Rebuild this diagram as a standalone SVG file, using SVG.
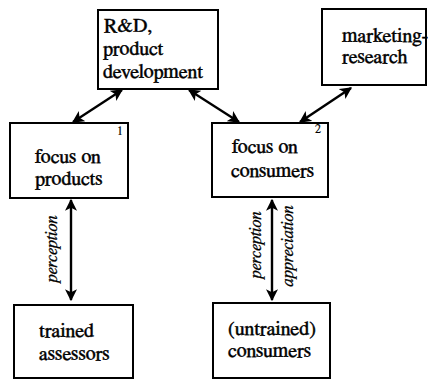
<svg xmlns="http://www.w3.org/2000/svg" width="428" height="380" viewBox="0 0 428 380">
  <style>
    text { font-family: FreeSerif, "Liberation Serif", "Times New Roman", serif; fill: #000; stroke: #000; stroke-width: 0.45; }
    .lbl { font-size: 20px; }
    .num { font-size: 12px; stroke-width: 0.2; }
    .rel { font-size: 17px; font-style: italic; stroke-width: 0.3; }
    .box { fill: #fff; stroke: #000; stroke-width: 2; }
    .link { stroke: #000; stroke-width: 2.4; fill: none; marker-start: url(#head); marker-end: url(#head); }
  </style>
  <defs>
    <marker id="head" viewBox="0 0 10 10" refX="9" refY="5" markerWidth="5" markerHeight="5" orient="auto-start-reverse" markerUnits="strokeWidth">
      <path d="M0,0 L10,5 L0,10 L2.5,5 Z" fill="#000"/>
    </marker>
  </defs>
  <rect width="428" height="380" fill="#fff"/>

  <g id="connectors">
    <line class="link" x1="122" y1="90" x2="73" y2="122"/>
    <line class="link" x1="189" y1="90" x2="239" y2="122"/>
    <line class="link" x1="351" y1="88" x2="300" y2="122"/>
    <line class="link" x1="71" y1="200" x2="71" y2="300"/>
    <line class="link" x1="272" y1="200" x2="272" y2="300"/>
    <text class="rel" transform="translate(57,249) rotate(-90)" text-anchor="middle">perception</text>
    <text class="rel" transform="translate(261,245) rotate(-90)" text-anchor="middle">perception</text>
    <text class="rel" transform="translate(293,246) rotate(-90)" text-anchor="middle">appreciation</text>
  </g>

  <g id="rnd">
    <rect class="box" x="98" y="10" width="120" height="79"/>
    <text class="lbl" x="104" y="32">R&amp;D,</text>
    <text class="lbl" x="103" y="55">product</text>
    <text class="lbl" x="103" y="78">development</text>
  </g>

  <g id="marketing">
    <rect class="box" x="322" y="9" width="104" height="76"/>
    <text class="lbl" x="342" y="42">marketing-</text>
    <text class="lbl" x="342" y="63">research</text>
  </g>

  <g id="focus-products">
    <rect class="box" x="10" y="123" width="118" height="75"/>
    <text class="num" x="117" y="135">1</text>
    <text class="lbl" x="35" y="163">focus on</text>
    <text class="lbl" x="35" y="185">products</text>
  </g>

  <g id="focus-consumers">
    <rect class="box" x="212" y="123" width="116" height="74"/>
    <text class="num" x="315" y="133">2</text>
    <text class="lbl" x="232" y="153">focus on</text>
    <text class="lbl" x="231" y="177">consumers</text>
  </g>

  <g id="trained-assessors">
    <rect class="box" x="14" y="305" width="119" height="73"/>
    <text class="lbl" x="39" y="337">trained</text>
    <text class="lbl" x="39" y="360">assessors</text>
  </g>

  <g id="untrained-consumers">
    <rect class="box" x="213" y="303" width="117" height="75"/>
    <text class="lbl" x="228" y="335">(untrained)</text>
    <text class="lbl" x="228" y="357">consumers</text>
  </g>
</svg>
